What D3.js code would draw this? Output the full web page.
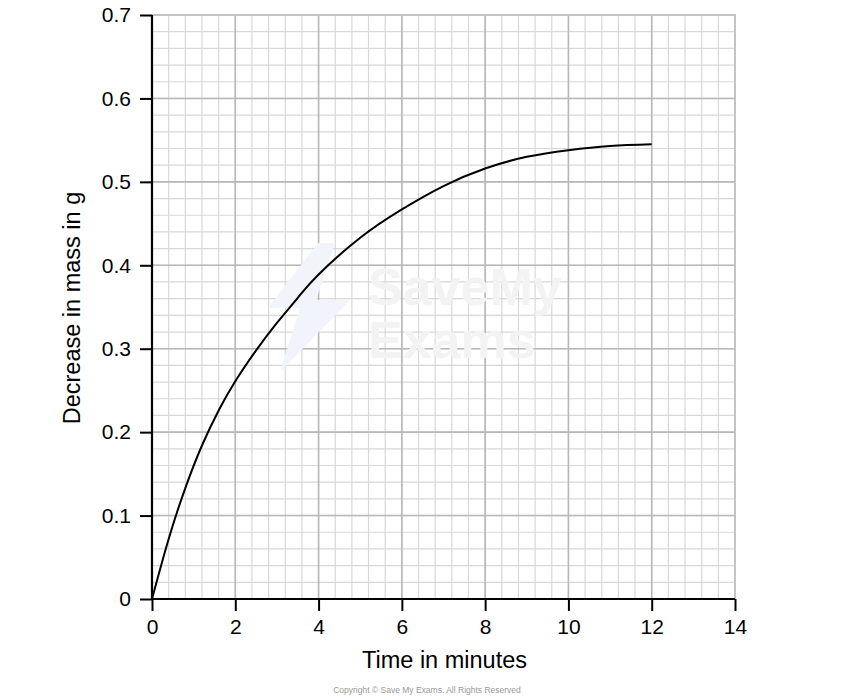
<!DOCTYPE html>
<html>
<head>
<meta charset="utf-8">
<script src="https://cdn.jsdelivr.net/npm/d3@7/dist/d3.min.js"></script>
<style>
  html, body { margin: 0; padding: 0; background: #fff; }
  svg { display: block; font-family: "Liberation Sans", Arial, Helvetica, sans-serif; }
</style>
</head>
<body>
<svg id="chart" width="854" height="700"></svg>
<script>
// Data
const timeMin = [0, 0.4, 0.8, 1.2, 1.6, 2, 2.5, 3, 3.5, 4, 5, 6, 7, 8, 9, 10, 11, 12];
const massDecrease = [0, 0.072, 0.133, 0.184, 0.226, 0.261, 0.298, 0.331, 0.361, 0.389, 0.433, 0.467, 0.495, 0.516, 0.530, 0.538, 0.543, 0.545];
const xTicks = [0, 2, 4, 6, 8, 10, 12, 14];
const yTicks = [0, 0.1, 0.2, 0.3, 0.4, 0.5, 0.6, 0.7];
const xTitle = "Time in minutes";
const yTitle = "Decrease in mass in g";
const copyright = "Copyright \u00A9 Save My Exams. All Rights Reserved";

(function () {
const svg = d3.select("#chart");
const pL = 152, pR = 735, pT = 15, pB = 599;

const x = d3.scaleLinear().domain([0, 14]).range([pL, pR]);
const y = d3.scaleLinear().domain([0, 0.7]).range([pB, pT]);

// Minor grid
const xMinor = d3.range(0, 36).map(i => i * 0.4);
const yMinor = d3.range(0, 36).map(i => i * 0.02);

const g = svg.append("g");
g.selectAll(".vminor").data(xMinor).join("line")
  .attr("x1", d => x(d)).attr("x2", d => x(d))
  .attr("y1", pT).attr("y2", pB)
  .attr("stroke", "#d8d8d8").attr("stroke-width", 1.2);
g.selectAll(".hminor").data(yMinor).join("line")
  .attr("x1", pL).attr("x2", pR)
  .attr("y1", d => y(d)).attr("y2", d => y(d))
  .attr("stroke", "#d8d8d8").attr("stroke-width", 1.2);
// Major grid
g.selectAll(".vmajor").data(xTicks).join("line")
  .attr("x1", d => x(d)).attr("x2", d => x(d))
  .attr("y1", pT).attr("y2", pB)
  .attr("stroke", "#b8b8b8").attr("stroke-width", 1.6);
g.selectAll(".hmajor").data(yTicks).join("line")
  .attr("x1", pL).attr("x2", pR)
  .attr("y1", d => y(d)).attr("y2", d => y(d))
  .attr("stroke", "#b8b8b8").attr("stroke-width", 1.6);
// top/right border
svg.append("path")
  .attr("d", `M${pL},${pT}H${pR}V${pB}`)
  .attr("fill", "none").attr("stroke", "#c4c4c4").attr("stroke-width", 2);

// Watermark
const wm = svg.append("g");
wm.append("path")
  .attr("d", "M318,243 L268,308 L300,308 L280,372 L350,300 L316,300 L335,243 Z")
  .attr("fill", "#f1f4fb");
wm.append("text").attr("x", 368).attr("y", 305).text("SaveMy")
  .attr("font-size", 52).attr("font-weight", "bold").attr("fill", "#f3f3f3");
wm.append("text").attr("x", 368).attr("y", 358).text("Exams")
  .attr("font-size", 52).attr("font-weight", "bold").attr("fill", "#f3f3f3");

// Axes
const xAxis = d3.axisBottom(x).tickValues(xTicks).tickSize(12).tickPadding(8).tickFormat(d3.format("d"));
const yAxis = d3.axisLeft(y).tickValues(yTicks).tickSize(12).tickPadding(9).tickFormat(d => d === 0 ? "0" : d3.format(".1f")(d));

const gx = svg.append("g").attr("transform", `translate(0,${pB})`).call(xAxis);
const gy = svg.append("g").attr("transform", `translate(${pL},0)`).call(yAxis);
[gx, gy].forEach(a => {
  a.select(".domain").attr("stroke", "#000").attr("stroke-width", 2.2);
  a.selectAll(".tick line").attr("stroke", "#000").attr("stroke-width", 2);
  a.selectAll(".tick text").attr("font-size", 21).attr("fill", "#000")
    .attr("font-family", "'Liberation Sans', Arial, sans-serif");
});
gx.select(".domain").attr("d", `M${pL},0H${pR}`);
gy.select(".domain").attr("d", `M0,${pB}V${pT}`);

// Curve
const line = d3.line().x((d, i) => x(timeMin[i])).y(d => y(d)).curve(d3.curveNatural);
svg.append("path").datum(massDecrease)
  .attr("d", line).attr("fill", "none").attr("stroke", "#000").attr("stroke-width", 2);

// Titles
svg.append("text").attr("x", (pL + pR) / 2 + 1).attr("y", 667.5)
  .attr("text-anchor", "middle").attr("font-size", 23.5).text(xTitle);
svg.append("text").attr("transform", `translate(80,${(pT + pB) / 2 + 1}) rotate(-90)`)
  .attr("text-anchor", "middle").attr("font-size", 23.5).text(yTitle);
svg.append("text").attr("x", 427).attr("y", 693)
  .attr("text-anchor", "middle").attr("font-size", 8.5).attr("fill", "#999").text(copyright);
})();
</script>
</body>
</html>
